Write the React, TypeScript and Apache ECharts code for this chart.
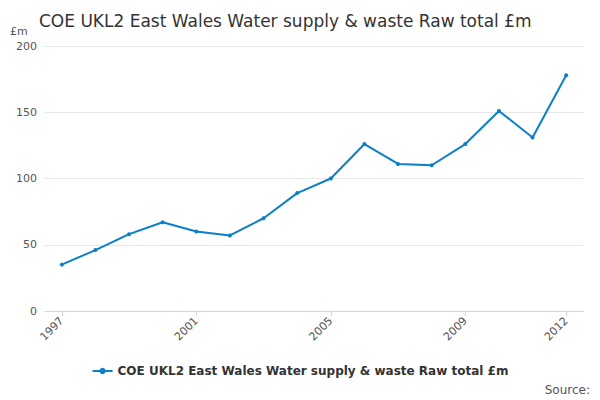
import React, { useEffect, useRef } from "react";
import * as echarts from "echarts";

const years = ["1997","1998","1999","2000","2001","2002","2003","2004","2005","2006","2007","2008","2009","2010","2011","2012"];
const values = [35, 46, 58, 67, 60, 57, 70, 89, 100, 126, 111, 110, 126, 151, 131, 178];
const shownLabels = ["1997", "2001", "2005", "2009", "2012"];
const seriesName = "COE UKL2 East Wales Water supply & waste Raw total £m";

export default function App() {
  const ref = useRef<HTMLDivElement>(null);
  useEffect(() => {
    const chart = echarts.init(ref.current!, null, { renderer: "svg" });
    chart.setOption({
      animation: false,
      textStyle: { fontFamily: "DejaVu Sans" },
      title: { text: seriesName, left: 34, top: 7, textStyle: { fontSize: 17, fontWeight: "normal", color: "#333" } },
      grid: { left: 45, right: 17, top: 46, bottom: 89 },
      legend: { bottom: 18, left: "center", itemWidth: 20, itemHeight: 8, textStyle: { fontSize: 12, fontWeight: "bold", color: "#333" } },
      graphic: [
        { type: "text", right: 10, bottom: 4, style: { text: "Source:", fontSize: 12, fill: "#555", fontFamily: "DejaVu Sans" } },
        { type: "text", left: 10, top: 26, style: { text: "£m", fontSize: 11, fill: "#555", fontFamily: "DejaVu Sans" } }
      ],
      xAxis: {
        type: "category", data: years, boundaryGap: true,
        axisLine: { lineStyle: { color: "#ccd6eb" } },
        axisTick: { show: true, alignWithLabel: true, interval: (i: number, v: string) => shownLabels.includes(v), lineStyle: { color: "#ccd6eb" } },
        axisLabel: { interval: (i: number, v: string) => shownLabels.includes(v), rotate: 45, color: "#555", fontSize: 11 }
      },
      yAxis: {
        type: "value", min: 0, max: 200, interval: 50,
        axisLabel: { color: "#555", fontSize: 11 },
        splitLine: { lineStyle: { color: "#e6e6e6" } }
      },
      series: [{
        name: seriesName, type: "line", data: values,
        itemStyle: { color: "#0b7fc7" }, lineStyle: { width: 2 },
        symbol: "circle", symbolSize: 4
      }]
    });
    return () => chart.dispose();
  }, []);
  return <div ref={ref} style={{ position: "absolute", left: 0, top: 0, width: 600, height: 400 }} />;
}
